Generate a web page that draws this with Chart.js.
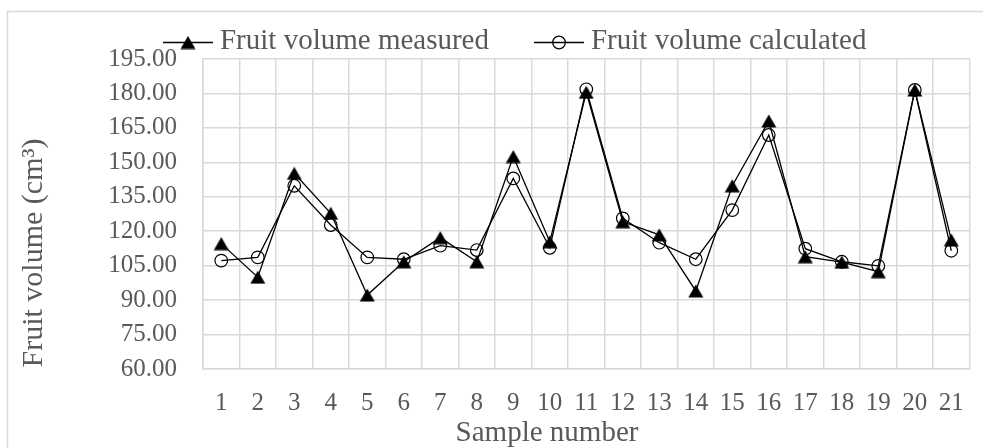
<!DOCTYPE html>
<html>
<head>
<meta charset="utf-8">
<script src="https://cdn.jsdelivr.net/npm/chart.js@4.4.1/dist/chart.umd.min.js"></script>
<style>
  html, body { margin: 0; padding: 0; background: #ffffff; }
  #wrap { position: relative; width: 983px; height: 448px; }
</style>
</head>
<body>
<div id="wrap"><canvas id="c" width="983" height="448"></canvas></div>
<script>
// ---- data ----
const sampleNumbers = ['1','2','3','4','5','6','7','8','9','10','11','12','13','14','15','16','17','18','19','20','21'];
const measuredVolume = [114.6, 100.0, 145.2, 127.8, 92.2, 106.7, 117.2, 106.7, 152.5, 115.4, 180.5, 124.1, 118.4, 94.0, 139.8, 168.0, 108.9, 106.5, 102.4, 181.5, 116.2];
const calculatedVolume = [107.2, 108.6, 139.8, 122.7, 108.6, 107.8, 113.7, 111.8, 143.0, 112.8, 181.8, 125.6, 115.0, 107.8, 129.2, 161.9, 112.4, 106.7, 104.9, 181.5, 111.5];
const yTickValues = [60, 75, 90, 105, 120, 135, 150, 165, 180, 195];
const seriesNames = ['Fruit volume measured', 'Fruit volume calculated'];
const xAxisTitle = 'Sample number';
const yAxisTitle = 'Fruit volume (cm\u00B3)';

// ---- styling ----
const FONT = '"Liberation Serif", "Times New Roman", serif';
const TEXT_COLOR = '#595959';
const GRID_COLOR = '#d9d9d9';

function makeTriangle() {
  const c = document.createElement('canvas');
  c.width = 16; c.height = 14;
  const g = c.getContext('2d');
  g.fillStyle = '#000';
  g.beginPath();
  g.moveTo(8, 0.5);
  g.lineTo(15.5, 13.5);
  g.lineTo(0.5, 13.5);
  g.closePath();
  g.fill();
  return c;
}
const triangleImg = makeTriangle();

const frameAndTitles = {
  id: 'frameAndTitles',
  beforeDraw(chart) {
    const ctx = chart.ctx;
    ctx.save();
    ctx.strokeStyle = GRID_COLOR;
    ctx.lineWidth = 1.5;
    ctx.beginPath();
    ctx.moveTo(7.5, 460);
    ctx.lineTo(7.5, 11.5);
    ctx.lineTo(1000, 11.5);
    ctx.stroke();
    ctx.restore();
  },
  afterDraw(chart) {
    const ctx = chart.ctx;
    ctx.save();
    ctx.fillStyle = TEXT_COLOR;
    // y axis title
    ctx.save();
    ctx.font = '30px ' + FONT;
    ctx.translate(42, 253);
    ctx.rotate(-Math.PI / 2);
    ctx.textAlign = 'center';
    ctx.textBaseline = 'alphabetic';
    ctx.fillText(yAxisTitle, 0, 0);
    ctx.restore();
    ctx.font = '29px ' + FONT;
    // x axis title
    ctx.textAlign = 'center';
    ctx.textBaseline = 'alphabetic';
    ctx.fillText(xAxisTitle, 547, 441);

    // legend
    const lineLen = 50, gapText = 7, gapItem = 45;
    const w1 = ctx.measureText(seriesNames[0]).width;
    const w2 = ctx.measureText(seriesNames[1]).width;
    const total = lineLen + gapText + w1 + gapItem + lineLen + gapText + w2;
    let x = 514.7 - total / 2;
    const ly = 42.5, baseY = 49;
    ctx.textAlign = 'left';
    for (let i = 0; i < 2; i++) {
      ctx.strokeStyle = '#000';
      ctx.lineWidth = 1.3;
      ctx.beginPath();
      ctx.moveTo(x, ly);
      ctx.lineTo(x + lineLen, ly);
      ctx.stroke();
      const cx = x + lineLen / 2;
      if (i === 0) {
        ctx.drawImage(triangleImg, cx - triangleImg.width / 2, ly - triangleImg.height / 2);
      } else {
        ctx.beginPath();
        ctx.arc(cx, ly, 6.3, 0, Math.PI * 2);
        ctx.stroke();
      }
      ctx.fillStyle = TEXT_COLOR;
      ctx.fillText(seriesNames[i], x + lineLen + gapText, baseY);
      x += lineLen + gapText + (i === 0 ? w1 : w2) + gapItem;
    }
    ctx.restore();
  }
};

new Chart(document.getElementById('c'), {
  type: 'line',
  data: {
    labels: sampleNumbers,
    datasets: [
      {
        label: seriesNames[0],
        data: measuredVolume,
        borderColor: '#000',
        borderWidth: 1.3,
        pointStyle: triangleImg,
        pointRadius: 7,
        pointHoverRadius: 7,
        tension: 0,
        fill: false
      },
      {
        label: seriesNames[1],
        data: calculatedVolume,
        borderColor: '#000',
        borderWidth: 1.3,
        pointStyle: 'circle',
        pointRadius: 6.3,
        pointHoverRadius: 6.3,
        pointBorderWidth: 1.2,
        pointBorderColor: '#000',
        pointBackgroundColor: 'rgba(0,0,0,0)',
        tension: 0,
        fill: false
      }
    ]
  },
  options: {
    responsive: false,
    animation: false,
    devicePixelRatio: 1,
    layout: { padding: { top: 59, right: 0, bottom: 0, left: 0 } },
    plugins: {
      legend: { display: false },
      tooltip: { enabled: false },
      title: { display: false }
    },
    scales: {
      x: {
        type: 'category',
        offset: true,
        grid: { offset: true, color: GRID_COLOR, lineWidth: 1.5, drawTicks: false },
        border: { display: true, color: GRID_COLOR, width: 1.5 },
        ticks: {
          color: TEXT_COLOR,
          font: { family: FONT, size: 25 },
          padding: 19,
          maxRotation: 0,
          autoSkip: false
        },
        afterFit(scale) { scale.height = 79; }
      },
      y: {
        min: 60,
        max: 195,
        grid: { color: GRID_COLOR, lineWidth: 1.5, drawTicks: false },
        border: { display: true, color: GRID_COLOR, width: 1.5 },
        ticks: {
          color: TEXT_COLOR,
          font: { family: FONT, size: 25 },
          padding: 26,
          callback: (v) => Number(v).toFixed(2)
        },
        afterBuildTicks(scale) { scale.ticks = yTickValues.map(v => ({ value: v })); },
        afterFit(scale) { scale.width = 203; }
      }
    }
  },
  plugins: [frameAndTitles]
});
</script>
</body>
</html>
